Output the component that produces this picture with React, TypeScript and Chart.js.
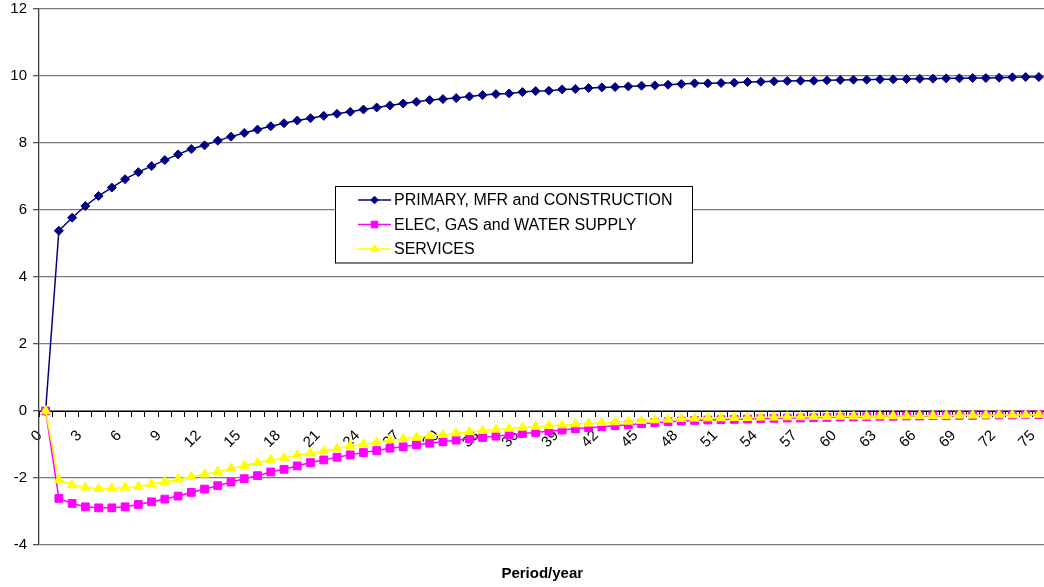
import React, { useEffect, useRef } from 'react';
import { Chart, registerables } from 'chart.js';
import { drawPoint } from 'chart.js/helpers';

Chart.register(...registerables);

const periods = [
  '0','1','2','3','4','5','6','7','8','9','10','11','12','13','14','15','16','17','18','19',
  '20','21','22','23','24','25','26','27','28','29','30','31','32','33','34','35','36','37','38','39',
  '40','41','42','43','44','45','46','47','48','49','50','51','52','53','54','55','56','57','58','59',
  '60','61','62','63','64','65','66','67','68','69','70','71','72','73','74','75',
];

const primary = [
  0, 5.38, 5.77, 6.12, 6.42, 6.67, 6.92, 7.13, 7.31, 7.49,
  7.66, 7.82, 7.93, 8.07, 8.19, 8.30, 8.40, 8.50, 8.59, 8.67,
  8.74, 8.81, 8.87, 8.93, 9.00, 9.06, 9.12, 9.18, 9.23, 9.28,
  9.31, 9.34, 9.39, 9.43, 9.46, 9.48, 9.52, 9.55, 9.56, 9.60,
  9.61, 9.64, 9.66, 9.67, 9.69, 9.71, 9.72, 9.74, 9.76, 9.78,
  9.78, 9.79, 9.80, 9.82, 9.83, 9.84, 9.85, 9.86, 9.86, 9.87,
  9.88, 9.89, 9.89, 9.90, 9.90, 9.91, 9.92, 9.92, 9.93, 9.93,
  9.94, 9.94, 9.95, 9.96, 9.97, 9.97,
];

const elec = [
  0, -2.61, -2.76, -2.86, -2.89, -2.89, -2.86, -2.79, -2.71, -2.63,
  -2.54, -2.43, -2.33, -2.23, -2.12, -2.02, -1.93, -1.82, -1.74, -1.64,
  -1.54, -1.46, -1.38, -1.31, -1.24, -1.18, -1.11, -1.07, -1.01, -0.96,
  -0.92, -0.87, -0.83, -0.79, -0.75, -0.72, -0.67, -0.64, -0.60, -0.57,
  -0.53, -0.50, -0.47, -0.44, -0.41, -0.38, -0.35, -0.32, -0.30, -0.28,
  -0.27, -0.26, -0.25, -0.24, -0.23, -0.22, -0.21, -0.21, -0.20, -0.19,
  -0.18, -0.18, -0.17, -0.16, -0.16, -0.15, -0.15, -0.14, -0.14, -0.13,
  -0.13, -0.12, -0.12, -0.12, -0.11, -0.11,
];

const services = [
  0, -2.06, -2.21, -2.28, -2.32, -2.31, -2.28, -2.26, -2.18, -2.11,
  -2.04, -1.96, -1.89, -1.81, -1.72, -1.63, -1.54, -1.46, -1.40, -1.32,
  -1.26, -1.20, -1.12, -1.04, -0.99, -0.93, -0.87, -0.83, -0.79, -0.74,
  -0.71, -0.66, -0.62, -0.59, -0.55, -0.52, -0.49, -0.47, -0.44, -0.42,
  -0.39, -0.37, -0.35, -0.33, -0.31, -0.29, -0.27, -0.25, -0.23, -0.22,
  -0.21, -0.21, -0.20, -0.20, -0.19, -0.19, -0.18, -0.18, -0.17, -0.17,
  -0.16, -0.16, -0.16, -0.15, -0.15, -0.15, -0.14, -0.14, -0.14, -0.13,
  -0.13, -0.13, -0.12, -0.12, -0.12, -0.11,
];

const seriesNames = ['PRIMARY, MFR and CONSTRUCTION', 'ELEC, GAS and WATER SUPPLY', 'SERVICES'];
const yMin = -4;
const yMax = 12;
const yStep = 2;
const xTickEvery = 3;
const xAxisTitle = 'Period/year';

const FONT = '"Liberation Sans", Arial, Helvetica, sans-serif';

const overlayPlugin = {
  id: 'overlay',
  afterDraw(chart: any) {
    const ctx = chart.ctx;
    const area = chart.chartArea;
    ctx.save();
    // legend box
    const bx = 335.5, by = 186.5, bw = 357, bh = 76.5;
    ctx.fillStyle = '#ffffff';
    ctx.fillRect(bx, by, bw, bh);
    ctx.strokeStyle = '#000000';
    ctx.lineWidth = 1;
    ctx.strokeRect(bx, by, bw, bh);
    chart.data.datasets.forEach((ds: any, i: number) => {
      const y = 200 + i * 24.5;
      ctx.strokeStyle = ds.borderColor;
      ctx.lineWidth = 1.5;
      ctx.beginPath();
      ctx.moveTo(358, y);
      ctx.lineTo(391, y);
      ctx.stroke();
      ctx.fillStyle = ds.pointBackgroundColor;
      ctx.strokeStyle = ds.pointBorderColor;
      ctx.lineWidth = 1;
      drawPoint(ctx, { pointStyle: ds.pointStyle, radius: ds.pointRadius * 0.85, borderWidth: 1, rotation: 0 }, 374.5, y);
      ctx.fillStyle = '#000000';
      ctx.font = '16px ' + FONT;
      ctx.textAlign = 'left';
      ctx.textBaseline = 'middle';
      ctx.fillText(ds.label, 394, y + 1);
    });
    // axis title
    ctx.fillStyle = '#000000';
    ctx.font = 'bold 15px ' + FONT;
    ctx.textAlign = 'center';
    ctx.textBaseline = 'middle';
    ctx.fillText(xAxisTitle, (area.left + area.right) / 2, 574);
    ctx.restore();
  },
};

export default function App() {
  const canvasRef = useRef<HTMLCanvasElement | null>(null);

  useEffect(() => {
    document.body.style.overflow = 'hidden';
    const canvas = canvasRef.current;
    if (!canvas) return;
    Chart.defaults.font.family = FONT;
    const chart = new Chart(canvas, {
      type: 'line',
      data: {
        labels: periods,
        datasets: [
          {
            label: seriesNames[0],
            data: primary,
            borderColor: '#000080',
            backgroundColor: '#000080',
            pointBackgroundColor: '#000080',
            pointBorderColor: '#000080',
            pointStyle: 'rectRot',
            pointRadius: 4.5,
            pointBorderWidth: 1,
            borderWidth: 1.5,
            tension: 0,
            order: 2,
          },
          {
            label: seriesNames[1],
            data: elec,
            borderColor: '#FF00FF',
            backgroundColor: '#FF00FF',
            pointBackgroundColor: '#FF00FF',
            pointBorderColor: '#FF00FF',
            pointStyle: 'rect',
            pointRadius: 5.5,
            pointBorderWidth: 1,
            borderWidth: 1.5,
            tension: 0,
            order: 1,
          },
          {
            label: seriesNames[2],
            data: services,
            borderColor: '#FFFF00',
            backgroundColor: '#FFFF00',
            pointBackgroundColor: '#FFFF00',
            pointBorderColor: '#FFFF00',
            pointStyle: 'triangle',
            pointRadius: 5.5,
            pointBorderWidth: 1,
            borderWidth: 1.5,
            tension: 0,
            order: 0,
          },
        ],
      },
      options: {
        animation: false,
        responsive: false,
        maintainAspectRatio: false,
        layout: { padding: { left: 0, right: 3, top: 9, bottom: 42 } },
        plugins: {
          legend: { display: false },
          tooltip: { enabled: false },
          title: { display: false },
        },
        scales: {
          x: {
            type: 'category',
            position: { y: 0 } as any,
            offset: true,
            grid: {
              display: true,
              drawOnChartArea: false,
              drawTicks: true,
              tickLength: 5,
              color: '#000000',
              offset: true,
            },
            border: { display: true, color: '#000000', width: 1 },
            ticks: {
              autoSkip: false,
              maxRotation: 45,
              minRotation: 45,
              padding: 5,
              color: '#000000',
              font: { size: 15, family: FONT },
              callback: (_v: any, idx: number) => (idx % xTickEvery === 0 ? periods[idx] + '  ' : ''),
            },
            afterFit: (scale: any) => {
              scale.paddingLeft = 0;
              scale.paddingRight = 0;
              scale.paddingTop = 0;
              scale.paddingBottom = 0;
            },
          },
          y: {
            min: yMin,
            max: yMax,
            grid: {
              color: '#7a7a7a',
              lineWidth: 1.3,
              tickLength: 6,
              tickColor: '#555555',
            },
            border: { display: true, color: '#404040', width: 1.3 },
            ticks: {
              stepSize: yStep,
              padding: 6,
              color: '#000000',
              font: { size: 15, family: FONT },
            },
            afterFit: (scale: any) => {
              scale.width = 39;
              scale.paddingTop = 0;
              scale.paddingBottom = 0;
            },
          },
        },
      },
      plugins: [overlayPlugin],
    });
    return () => chart.destroy();
  }, []);

  return (
    <div style={{ position: 'absolute', left: 0, top: 0, width: 1052, height: 587, background: '#ffffff' }}>
      <canvas ref={canvasRef} width={1052} height={587} style={{ width: 1052, height: 587, display: 'block' }} />
    </div>
  );
}
